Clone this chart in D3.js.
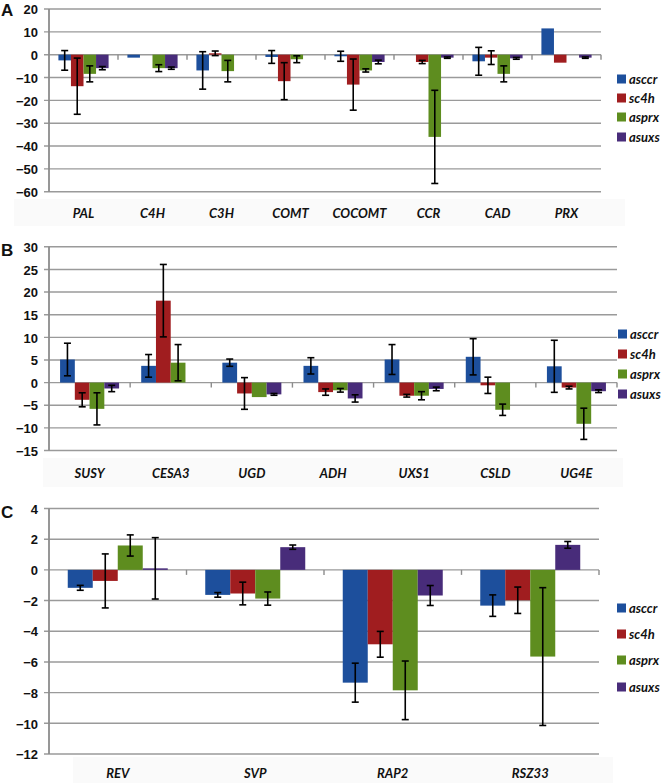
<!DOCTYPE html>
<html>
<head>
<meta charset="utf-8">
<script src="https://cdn.jsdelivr.net/npm/d3@7"></script>
<style>
html,body{margin:0;padding:0;background:#fff;}
svg{display:block;}
</style>
</head>
<body>
<svg id="chart" width="662" height="783"></svg>
<script>
// ---------- DATA ----------
const seriesNames = ["asccr", "sc4h", "asprx", "asuxs"];

const categoriesA = ["PAL", "C4H", "C3H", "COMT", "COCOMT", "CCR", "CAD", "PRX"];
const ticksA = [20, 10, 0, -10, -20, -30, -40, -50, -60];
const valuesA = [
  [-2.5, -1.3, -6.9, -1.0, -0.7, 0, -2.9, 11.5],      // asccr
  [-13.8, 0, 0.6, -11.6, -13.1, -3.2, -1.3, -3.5],    // sc4h
  [-8.4, -5.9, -7.2, -2.0, -6.9, -36.0, -8.4, 0],     // asprx
  [-5.9, -5.9, 0, 0, -3.2, -1.3, -1.6, -1.3]          // asuxs
];
const errorsA = [
  [4.3, 0, 8.2, 2.8, 2.2, 0, 6.1, 0],
  [12.3, 0, 1.0, 8.1, 11.2, 0.7, 3.0, 0],
  [3.5, 1.5, 4.7, 1.5, 0.7, 20.4, 3.5, 0],
  [0.7, 0.5, 0, 0, 0.8, 0.3, 0.4, 0.3]
];

const categoriesB = ["SUSY", "CESA3", "UGD", "ADH", "UXS1", "CSLD", "UG4E"];
const ticksB = [30, 25, 20, 15, 10, 5, 0, -5, -10, -15];
const valuesB = [
  [5.1, 3.7, 4.4, 3.7, 5.1, 5.7, 3.6],
  [-3.8, 18.1, -2.4, -2.1, -2.9, -0.6, -1.1],
  [-5.8, 4.4, -3.2, -1.7, -2.9, -6.0, -9.1],
  [-1.3, 0, -2.6, -3.5, -1.4, 0, -1.9]
];
const errorsB = [
  [3.6, 2.5, 0.8, 1.8, 3.3, 4.0, 5.75],
  [1.55, 8.0, 3.5, 0.7, 0.3, 1.8, 0.3],
  [3.55, 4.0, 0, 0.4, 0.9, 1.25, 3.45],
  [0.7, 0, 0.2, 0.8, 0.4, 0, 0.3]
];

const categoriesC = ["REV", "SVP", "RAP2", "RSZ33"];
const ticksC = [4, 2, 0, -2, -4, -6, -8, -10, -12];
const valuesC = [
  [-1.17, -1.63, -7.35, -2.33],
  [-0.72, -1.54, -4.85, -1.98],
  [1.59, -1.87, -7.85, -5.65],
  [0.1, 1.48, -1.67, 1.63]
];
const errorsC = [
  [0.16, 0.15, 1.27, 0.7],
  [1.76, 0.74, 0.84, 0.86],
  [0.69, 0.43, 1.91, 4.49],
  [2.0, 0.14, 0.65, 0.22]
];

// ---------- STYLE ----------
const colors = ["#1d4f9c", "#a01d1f", "#5e8d1f", "#482c7a"];
const svg = d3.select("#chart");
const labelFont = "Lato, 'Liberation Sans', Arial, sans-serif";

function drawPanel(cfg) {
  const g = svg.append("g");
  const x0 = d3.scaleBand().domain(cfg.categories).range([cfg.left, cfg.right]).paddingInner(0).paddingOuter(0);
  const bw = x0.bandwidth();
  const barW = bw / 5.5;
  const x1 = d3.scaleBand().domain(seriesNames).range([0.75 * barW, bw - 0.75 * barW]).padding(0);
  const y = d3.scaleLinear().domain(cfg.domain).range([cfg.bottom, cfg.top]);

  // faint label band
  g.append("rect").attr("x", cfg.bandX).attr("y", cfg.bandY).attr("width", cfg.bandW).attr("height", cfg.bandH)
    .attr("fill", "#fafafa");

  // gridlines
  g.selectAll(".grid").data(cfg.ticks).join("line")
    .attr("x1", cfg.left - 5).attr("x2", cfg.right)
    .attr("y1", d => y(d)).attr("y2", d => y(d))
    .attr("stroke", "#9a9a9a").attr("stroke-width", 1.4);

  // y axis via d3
  const yAxis = d3.axisLeft(y).tickValues(cfg.ticks).tickSize(0).tickPadding(0).tickFormat(d3.format("d"));
  const ax = g.append("g").attr("transform", `translate(${cfg.left - 11},0)`).call(yAxis);
  ax.select(".domain").remove();
  ax.selectAll("text").attr("font-family", "'Liberation Sans', Arial, sans-serif")
    .attr("font-weight", "bold").attr("font-size", 13).attr("fill", "#111").attr("dy", "0.36em");

  g.append("line").attr("x1", cfg.left).attr("x2", cfg.left).attr("y1", cfg.top).attr("y2", cfg.bottom)
    .attr("stroke", "#8c8c8c").attr("stroke-width", 1.8);

  // bars
  seriesNames.forEach((s, si) => {
    const vals = cfg.values[si];
    g.selectAll(".bar" + si).data(cfg.categories).join("rect")
      .attr("x", (c) => x0(c) + x1(s))
      .attr("width", x1.bandwidth())
      .attr("y", (c, i) => Math.min(y(vals[i]), y(0)))
      .attr("height", (c, i) => Math.abs(y(vals[i]) - y(0)))
      .attr("fill", colors[si]);
  });

  // zero-line category ticks
  const bounds = cfg.categories.map(c => x0(c)).concat([cfg.right]);
  g.selectAll(".ztick").data(bounds.slice(1)).join("line")
    .attr("x1", d => d).attr("x2", d => d).attr("y1", y(0)).attr("y2", y(0) + 5)
    .attr("stroke", "#8c8c8c").attr("stroke-width", 1.4);

  // error bars
  seriesNames.forEach((s, si) => {
    const vals = cfg.values[si], errs = cfg.errors[si];
    cfg.categories.forEach((c, i) => {
      const e = errs[i];
      if (!e) return;
      const cx = x0(c) + x1(s) + x1.bandwidth() / 2;
      const yt = y(vals[i] + e), yb = y(vals[i] - e);
      g.append("line").attr("x1", cx).attr("x2", cx).attr("y1", yt).attr("y2", yb)
        .attr("stroke", "#000").attr("stroke-width", 1.6);
      [yt, yb].forEach(yy => g.append("line").attr("x1", cx - 3.5).attr("x2", cx + 3.5)
        .attr("y1", yy).attr("y2", yy).attr("stroke", "#000").attr("stroke-width", 1.6));
    });
  });

  // category labels
  g.selectAll(".clab").data(cfg.categories).join("text")
    .attr("x", c => x0(c) + bw / 2).attr("y", cfg.labelY)
    .attr("text-anchor", "middle").attr("dy", "0.36em")
    .attr("font-family", labelFont).attr("font-weight", "bold")
    .attr("font-style", "italic").attr("font-size", 13).attr("fill", "#111")
    .text(c => c);

  // legend
  seriesNames.forEach((s, si) => {
    const ly = cfg.legendY[si];
    g.append("rect").attr("x", cfg.legendX).attr("y", ly - 4.5).attr("width", 9).attr("height", 9).attr("fill", colors[si]);
    g.append("text").attr("x", cfg.legendX + 12).attr("y", ly).attr("dy", "0.36em")
      .attr("font-family", labelFont).attr("font-weight", "bold")
      .attr("font-style", "italic").attr("font-size", 13).attr("fill", "#111").text(s);
  });

  // panel letter
  g.append("text").attr("x", 1).attr("y", cfg.letterY)
    .attr("font-family", "'Liberation Sans', Arial, sans-serif").attr("font-weight", "bold")
    .attr("font-size", 17).attr("fill", "#111").text(cfg.letter);
}

drawPanel({
  letter: "A", letterY: 16,
  categories: categoriesA, values: valuesA, errors: errorsA, ticks: ticksA,
  domain: [-60, 20], top: 9, bottom: 191.7, left: 49, right: 601,
  labelY: 213, legendX: 617, legendY: [79, 98, 117, 137],
  bandX: 14, bandY: 199, bandW: 611, bandH: 27
});
drawPanel({
  letter: "B", letterY: 256,
  categories: categoriesB, values: valuesB, errors: errorsB, ticks: ticksB,
  domain: [-15, 30], top: 246.8, bottom: 450.5, left: 49, right: 617,
  labelY: 473, legendX: 618, legendY: [334, 354, 374, 394],
  bandX: 43, bandY: 458, bandW: 580, bandH: 29
});
drawPanel({
  letter: "C", letterY: 518,
  categories: categoriesC, values: valuesC, errors: errorsC, ticks: ticksC,
  domain: [-12, 4], top: 508.5, bottom: 754, left: 49, right: 599,
  labelY: 773, legendX: 617, legendY: [608, 634, 660, 687],
  bandX: 73, bandY: 757, bandW: 540, bandH: 26
});
</script>
</body>
</html>
